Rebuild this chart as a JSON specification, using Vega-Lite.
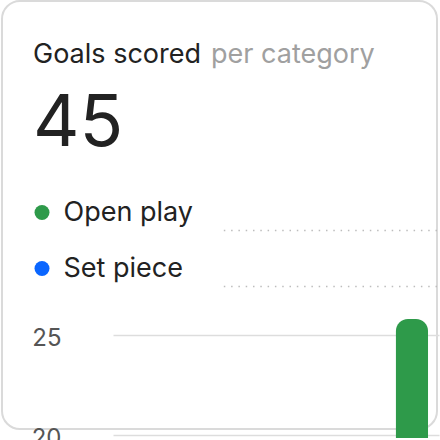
{
  "$schema": "https://vega.github.io/schema/vega-lite/v6.json",
  "width": 440,
  "height": 440,
  "autosize": {"type": "fit", "contains": "padding"},
  "padding": {"left": 1, "top": 1, "right": 2, "bottom": 2},
  "background": "#ffffff",
  "title": {
    "text": "Goals scored",
    "subtitle": "45",
    "anchor": "start",
    "frame": "group",
    "orient": "top",
    "offset": -160,
    "dx": 31,
    "font": "Inter",
    "fontSize": 27,
    "fontWeight": "normal",
    "color": "#222222",
    "subtitleFont": "Inter",
    "subtitleFontSize": 72,
    "subtitleFontWeight": "normal",
    "subtitleColor": "#222222",
    "subtitlePadding": 20
  },
  "data": {
    "values": [
      {"category": "Open play", "goals": 25.8},
      {"category": "Set piece", "goals": 19.2}
    ]
  },
  "layer": [
    {
      "mark": {"type": "bar", "cornerRadiusTopLeft": 12, "cornerRadiusTopRight": 12},
      "encoding": {
        "x": {
          "field": "category",
          "type": "nominal",
          "sort": ["Set piece", "Open play"],
          "scale": {"range": [111, 437], "paddingInner": 0.882, "paddingOuter": 0.0404},
          "axis": {
            "orient": "top",
            "labels": false,
            "ticks": false,
            "domain": false,
            "grid": false,
            "title": "per category",
            "titleX": 208.5,
            "titleY": 61.3,
            "titleAlign": "left",
            "titleBaseline": "alphabetic",
            "titleAngle": 0,
            "titleFont": "Inter",
            "titleFontSize": 27,
            "titleFontWeight": "normal",
            "titleColor": "#a0a0a0"
          }
        },
        "y": {
          "field": "goals",
          "type": "quantitative",
          "stack": null,
          "scale": {"domain": [19.85, 26], "range": [437, 314], "nice": false, "zero": false, "clamp": true},
          "axis": {
            "values": [20, 25],
            "offset": -59,
            "ticks": false,
            "domain": false,
            "labelPadding": 0,
            "labelFont": "Inter",
            "labelFontSize": 24,
            "labelColor": "#555555",
            "labelOffset": 3,
            "grid": true,
            "gridColor": "#dddddd",
            "gridWidth": 1.5,
            "title": null
          }
        },
        "color": {
          "field": "category",
          "type": "nominal",
          "scale": {"domain": ["Open play", "Set piece"], "range": ["#2e9a4a", "#0a66ff"]},
          "legend": {
            "orient": "none",
            "legendX": 1,
            "legendY": 172.5,
            "direction": "vertical",
            "title": null,
            "padding": 25.5,
            "fillColor": "#ffffff",
            "symbolType": "circle",
            "symbolSize": 225,
            "symbolStrokeWidth": 0,
            "symbolOpacity": 1,
            "labelFont": "Inter",
            "labelFontSize": 27,
            "labelColor": "#222222",
            "labelOffset": 8,
            "rowPadding": 28
          }
        }
      }
    },
    {
      "mark": {"type": "rule", "color": "#bdbdbd", "strokeWidth": 1.5, "strokeDash": [1.5, 5.8]},
      "encoding": {
        "y": {
          "field": "category",
          "type": "nominal",
          "scale": {"type": "point", "range": [229.5, 285.5], "padding": 0},
          "axis": null
        }
      }
    }
  ],
  "resolve": {"scale": {"y": "independent"}},
  "config": {
    "view": {"stroke": "#dadada", "strokeWidth": 2, "cornerRadius": 18, "fill": "#ffffff"}
  }
}
